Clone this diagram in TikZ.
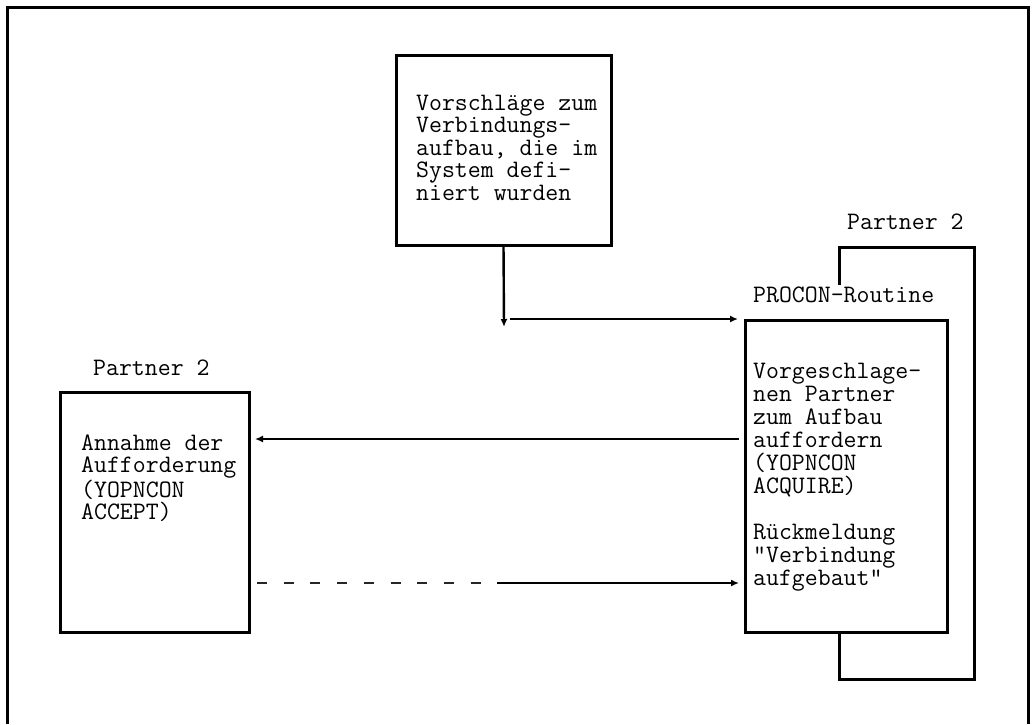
\documentclass[tikz,border=0pt]{standalone}
\usepackage{fontspec}
\usetikzlibrary{arrows.meta}
\begin{document}
\begin{tikzpicture}[x=1pt,y=-1pt,
  frameline/.style={line width=3pt},
  box/.style={draw, line width=3pt, rectangle, inner sep=0, outer sep=0},
  loopline/.style={line width=3pt},
  conn/.style={line width=2.4pt, -{Latex[length=8pt,width=7pt]}},
  dashpart/.style={line width=1.8pt, black!85, dash pattern=on 10pt off 16.7pt},
  txt/.style={font=\ttfamily\fontsize{25.1}{22.5}\selectfont, inner sep=0, align=left, anchor=base west}]
\useasboundingbox (0,0) rectangle (1032,724);

% outer frame (open at the bottom)
\draw[frameline] (7,724) -- (7,7) -- (1028.5,7) -- (1028.5,724);

% boxes
\node[box, minimum width=215pt, minimum height=190pt] (top) at (503.5,150) {};
\node[box, minimum width=202pt, minimum height=312pt] (right) at (846,476) {};
\node[box, minimum width=189pt, minimum height=240pt] (left) at (154.5,512) {};

% loop around the PROCON routine
\coordinate (loopA) at (839,285);
\coordinate (loopB) at (839,632);
\draw[loopline] (loopA) -- (839,247) -- (974,247) -- (974,679) -- (839,679) -- (loopB);

% texts (anchored at the baseline of their last line)
\node[txt] (ttop) at (416,200) {Vorschläge zum\\Verbindungs-\\aufbau, die im\\System defi-\\niert wurden};
\node[txt, font=\ttfamily\fontsize{25.1}{23}\selectfont] (tright) at (753,585) {Vorgeschlage-\\nen Partner\\zum Aufbau\\auffordern\\(YOPNCON\\ACQUIRE)\\[23pt]Rückmeldung\\"Verbindung\\aufgebaut"};
\node[txt] (tleft) at (81,519.5) {Annahme der\\Aufforderung\\(YOPNCON\\ACCEPT)};
\node[txt] (lpartnerR) at (847,229) {Partner 2};
\node[txt] (lprocon) at (753,302) {PROCON-Routine};
\node[txt] (lpartnerL) at (93,375) {Partner 2};

% connectors
\coordinate (drop) at (504,327);
\draw[conn] (top.south) -- (drop);
\coordinate (feedA) at (510,319);
\coordinate (feedB) at (738,319);
\draw[conn] (feedA) -- (feedB);
\coordinate (reqA) at (739,439);
\coordinate (reqB) at (255,439);
\draw[conn] (reqA) -- (reqB);
\coordinate (ackA) at (257,583);
\coordinate (ackB) at (481,583);
\coordinate (ackC) at (497,583);
\coordinate (ackD) at (739,583);
\draw[dashpart] (ackA) -- (ackB);
\draw[conn] (ackC) -- (ackD);
\end{tikzpicture}
\end{document}
